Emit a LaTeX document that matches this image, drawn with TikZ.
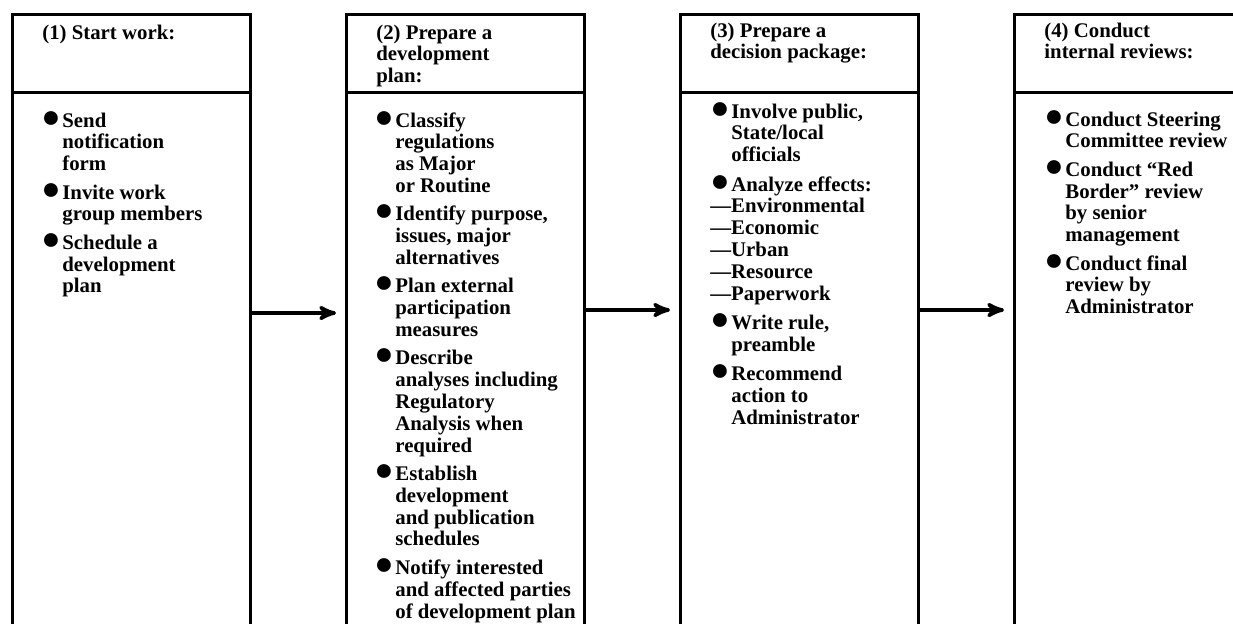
\documentclass[tikz,border=0pt]{standalone}
\usepackage{fontspec}
\setmainfont{Liberation Serif}
\usetikzlibrary{arrows,positioning}

\newcommand{\blob}{{\fontsize{16}{10}\selectfont ●}}

\begin{document}
\begin{tikzpicture}[x=0.5pt,y=-0.5pt,>=stealth',
  headbox/.style={draw,line width=1.5pt,outer sep=0pt,inner sep=0pt,
    minimum width=119pt,minimum height=39pt},
  bodybox/.style={draw,line width=1.5pt,outer sep=0pt,inner sep=0pt,
    minimum width=119pt,minimum height=280pt},
  boxtext/.style={anchor=base west,inner sep=0pt,
    font=\bfseries\fontsize{10.4}{10.9}\selectfont},
  flow/.style={->,line width=1.8pt,shorten >=5pt}]

\useasboundingbox (0,0) rectangle (1233,623);
\clip (0,0) rectangle (1233,623);

% the four stages
\node[headbox,anchor=north west] (head1) at (12,14) {};
\node[headbox] (head2) [right=48pt of head1] {};
\node[headbox] (head3) [right=48pt of head2] {};
\node[headbox] (head4) [right=48pt of head3] {};

\node[bodybox] (body1) [below=0pt of head1] {};
\node[bodybox] (body2) [below=0pt of head2] {};
\node[bodybox] (body3) [below=0pt of head3] {};
\node[bodybox] (body4) [below=0pt of head4] {};

% titles
\node[boxtext] (title1) at ([xshift=15pt,yshift=-12.5pt]head1.north west)
  {\begin{tabular}[t]{@{}l@{}}(1) Start work:\end{tabular}};
\node[boxtext] (title2) at ([xshift=15pt,yshift=-12.5pt]head2.north west)
  {\begin{tabular}[t]{@{}l@{}}(2) Prepare a\\ development\\ plan:\end{tabular}};
\node[boxtext] (title3) at ([xshift=15pt,yshift=-11.5pt]head3.north west)
  {\begin{tabular}[t]{@{}l@{}}(3) Prepare a\\ decision package:\end{tabular}};
\node[boxtext] (title4) at ([xshift=15pt,yshift=-11.5pt]head4.north west)
  {\begin{tabular}[t]{@{}l@{}}(4) Conduct\\ internal reviews:\end{tabular}};

% task lists
\node[boxtext] (list1) at ([xshift=14.5pt,yshift=-17.5pt]body1.north west)
  {\begin{tabular}[t]{@{}p{10.5pt}@{}l@{}}
    \blob & Send\\ & notification\\ & form\\[3pt]
    \blob & Invite work\\ & group members\\[3pt]
    \blob & Schedule a\\ & development\\ & plan
  \end{tabular}};
\node[boxtext] (list2) at ([xshift=14pt,yshift=-17.5pt]body2.north west)
  {\begin{tabular}[t]{@{}p{10.5pt}@{}l@{}}
    \blob & Classify\\ & regulations\\ & as Major\\ & or Routine\\[3pt]
    \blob & Identify purpose,\\ & issues, major\\ & alternatives\\[3pt]
    \blob & Plan external\\ & participation\\ & measures\\[3pt]
    \blob & Describe\\ & analyses including\\ & Regulatory\\ & Analysis when\\ & required\\[3pt]
    \blob & Establish\\ & development\\ & and publication\\ & schedules\\[3pt]
    \blob & Notify interested\\ & and affected parties\\ & of development plan
  \end{tabular}};
\node[boxtext] (list3) at ([xshift=15pt,yshift=-13pt]body3.north west)
  {\begin{tabular}[t]{@{}p{10.5pt}@{}l@{}}
    \blob & Involve public,\\ & State/local\\ & officials\\[3.5pt]
    \blob & Analyze effects:\\
    \multicolumn{2}{@{}l@{}}{—Environmental}\\
    \multicolumn{2}{@{}l@{}}{—Economic}\\
    \multicolumn{2}{@{}l@{}}{—Urban}\\
    \multicolumn{2}{@{}l@{}}{—Resource}\\
    \multicolumn{2}{@{}l@{}}{—Paperwork}\\[3.5pt]
    \blob & Write rule,\\ & preamble\\[3.5pt]
    \blob & Recommend\\ & action to\\ & Administrator
  \end{tabular}};
\node[boxtext] (list4) at ([xshift=15pt,yshift=-17pt]body4.north west)
  {\begin{tabular}[t]{@{}p{10.5pt}@{}l@{}}
    \blob & Conduct Steering\\ & Committee review\\[3pt]
    \blob & Conduct ``Red\\ & Border'' review\\ & by senior\\ & management\\[3pt]
    \blob & Conduct final\\ & review by\\ & Administrator
  \end{tabular}};

% flow between stages
\coordinate (lvl1) at (0,313);
\coordinate (lvl2) at (0,310);
\draw[flow] (body1.east |- lvl1) -- (body2.west |- lvl1);
\draw[flow] (body2.east |- lvl2) -- (body3.west |- lvl2);
\draw[flow] (body3.east |- lvl2) -- (body4.west |- lvl2);
\end{tikzpicture}
\end{document}
